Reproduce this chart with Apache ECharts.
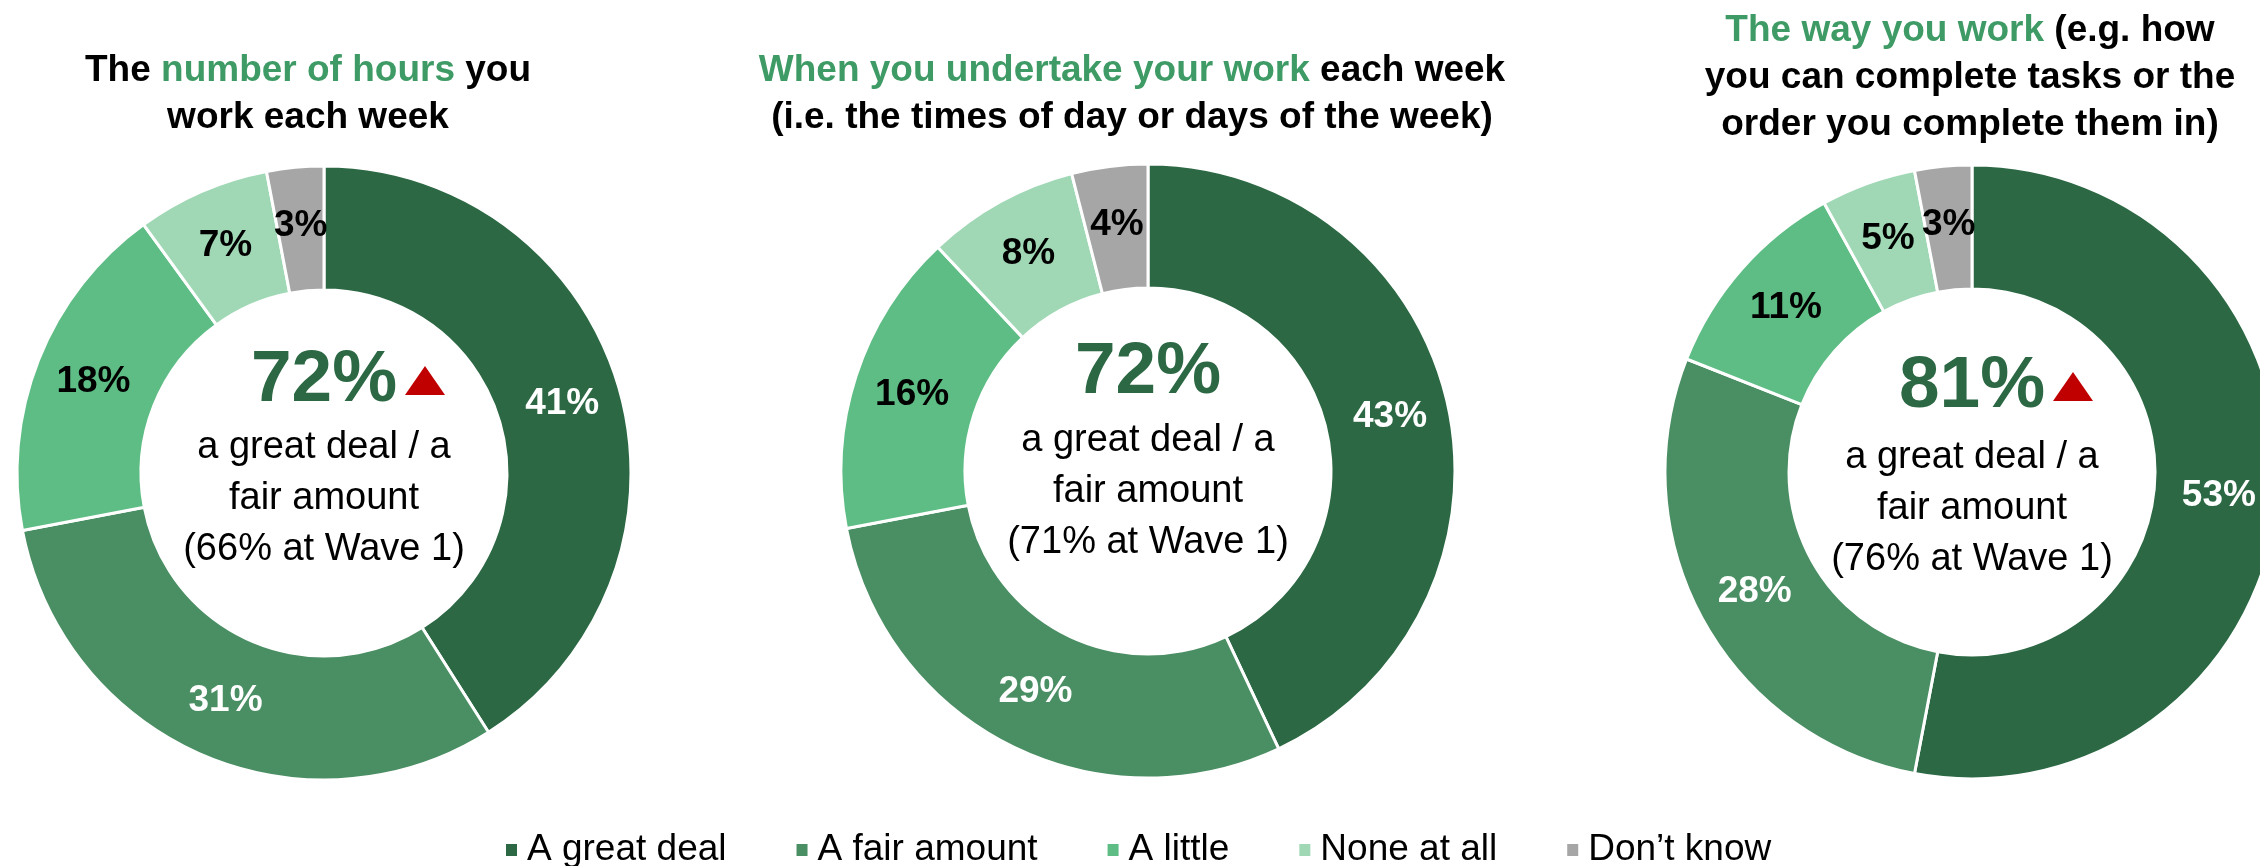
<!DOCTYPE html>
<html>
<head>
<meta charset="utf-8">
<script src="https://cdn.jsdelivr.net/npm/echarts@6/dist/echarts.min.js"></script>
<style>
  html, body { margin: 0; padding: 0; background: #ffffff; }
  #chart { width: 2260px; height: 866px; }
</style>
</head>
<body>
<div id="chart"></div>
<script>
// Response categories, shared by all three donuts (clockwise from 12 o'clock)
const categories = ['A great deal', 'A fair amount', 'A little', 'None at all', 'Don\u2019t know'];

// Share of respondents (%) per category
const hoursValues  = [41, 31, 18, 7, 3];   // number of hours worked
const timingValues = [43, 29, 16, 8, 4];   // when work is undertaken
const methodValues = [53, 28, 11, 5, 3];   // the way work is done

// "A great deal / a fair amount" combined share at Wave 1
const wave1Values = [66, 71, 76];
// Statistically significant rise since Wave 1
const significantRise = [true, false, true];

// Panel titles: plain text in black, {g|...} segments in green
const panelTitles = [
  'The {g|number of hours} you\nwork each week',
  '{g|When you undertake your work} each week\n(i.e. the times of day or days of the week)',
  '{g|The way you work} (e.g. how\nyou can complete tasks or the\norder you complete them in)'
];

const palette = ['#2B6843', '#4A8E63', '#5EBD85', '#A0D8B5', '#A6A6A6'];
const labelColors = ['#ffffff', '#ffffff', '#000000', '#000000', '#000000'];
const titleGreen = '#3F9B65';
const FONT = '"Liberation Sans", Arial, Helvetica, sans-serif';

const seriesValues = [hoursValues, timingValues, methodValues];

// Layout of each panel
const panels = [
  { cx: 324,  cy: 473, titleX: 308,  titleTop: 47, bigY: 381, subY: 499 },
  { cx: 1148, cy: 471, titleX: 1132, titleTop: 47, bigY: 373, subY: 492 },
  { cx: 1972, cy: 472, titleX: 1970, titleTop: 7,  bigY: 387, subY: 509 }
];

const chart = echarts.init(document.getElementById('chart'), null, { renderer: 'canvas' });

const series = seriesValues.map((vals, i) => ({
  type: 'pie',
  name: 'panel' + i,
  center: [panels[i].cx, panels[i].cy],
  radius: [183, 307],
  startAngle: 90,
  clockwise: true,
  silent: true,
  avoidLabelOverlap: false,
  itemStyle: { borderColor: '#ffffff', borderWidth: 3 },
  label: {
    show: true,
    position: 'inside',
    formatter: '{c}%',
    fontFamily: FONT,
    fontSize: 37,
    fontWeight: 'bold'
  },
  labelLine: { show: false },
  emphasis: { disabled: true },
  data: vals.map((v, k) => ({
    name: categories[k],
    value: v,
    itemStyle: { color: palette[k] },
    label: { color: labelColors[k] }
  }))
}));

const titles = panelTitles.map((t, i) => ({
  text: t,
  left: panels[i].titleX,
  top: panels[i].titleTop,
  textAlign: 'center',
  padding: 0,
  textStyle: {
    fontFamily: FONT,
    fontSize: 37,
    fontWeight: 'bold',
    color: '#000000',
    lineHeight: 47,
    rich: {
      g: { fontFamily: FONT, fontSize: 37, fontWeight: 'bold', color: titleGreen, lineHeight: 47 }
    }
  }
}));

// Centre annotations: combined top-two share, Wave 1 comparison, rise marker
const graphics = [];
seriesValues.forEach((vals, i) => {
  const p = panels[i];
  const combined = vals[0] + vals[1];
  graphics.push({
    type: 'text',
    x: p.cx, y: p.bigY,
    silent: true,
    style: {
      text: combined + '%',
      font: 'bold 73px ' + FONT,
      fill: '#2B6843',
      align: 'center',
      verticalAlign: 'middle'
    }
  });
  graphics.push({
    type: 'text',
    x: p.cx, y: p.subY,
    silent: true,
    style: {
      text: 'a great deal / a\nfair amount\n(' + wave1Values[i] + '% at Wave 1)',
      font: '38px ' + FONT,
      fill: '#000000',
      align: 'center',
      verticalAlign: 'middle',
      lineHeight: 51
    }
  });
  if (significantRise[i]) {
    const x0 = p.cx + 81, y0 = p.bigY;
    graphics.push({
      type: 'polygon',
      silent: true,
      shape: { points: [[x0 + 20, y0 - 15], [x0 + 40, y0 + 14], [x0, y0 + 14]] },
      style: { fill: '#C00000' }
    });
  }
});

chart.setOption({
  backgroundColor: '#ffffff',
  animation: false,
  title: titles,
  legend: {
    data: categories,
    left: 504,
    top: 830,
    padding: 0,
    icon: 'rect',
    itemWidth: 13,
    itemHeight: 14,
    itemGap: 68,
    selectedMode: false,
    textStyle: {
      fontFamily: FONT,
      fontSize: 37,
      color: '#000000',
      lineHeight: 40,
      padding: [0, 0, 0, 4]
    }
  },
  series: series,
  graphic: graphics
});
</script>
</body>
</html>
